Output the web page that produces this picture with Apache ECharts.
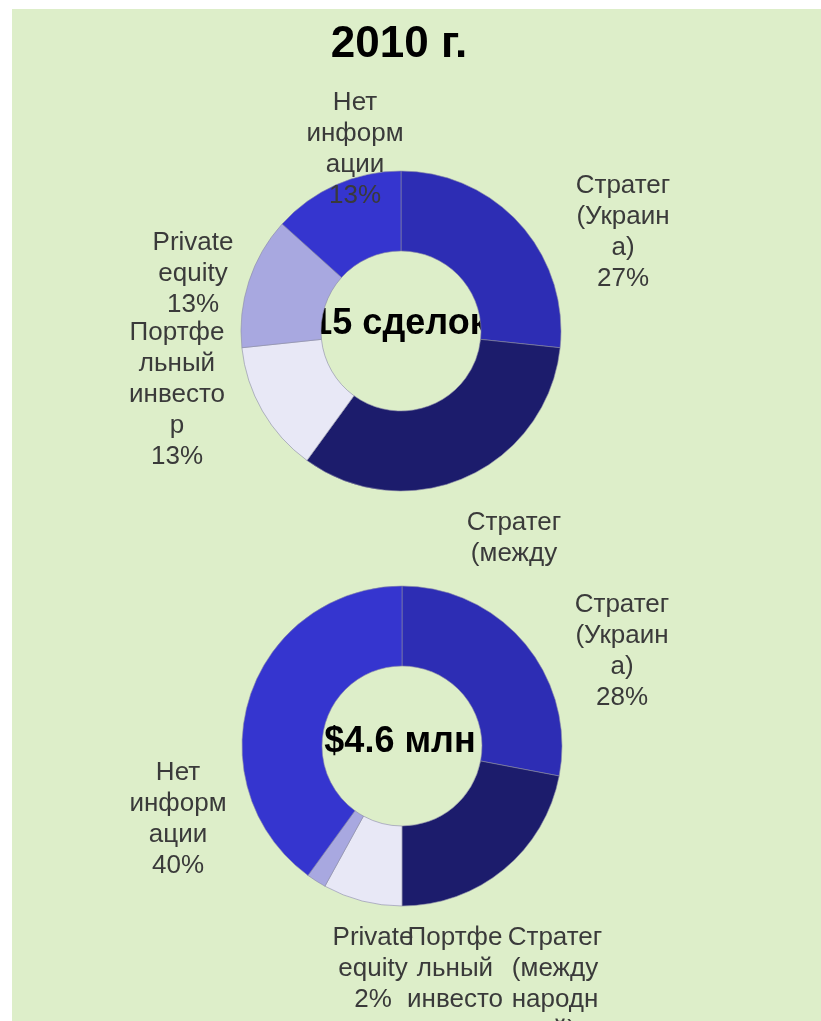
<!DOCTYPE html>
<html>
<head>
<meta charset="utf-8">
<script src="https://cdn.jsdelivr.net/npm/echarts@6/dist/echarts.min.js"></script>
<style>
  html, body { margin: 0; padding: 0; background: #fff; }
  #wrap { position: relative; width: 821px; height: 1021px; }
  #panel { position: absolute; left: 12px; top: 9px; right: 0; bottom: 0; background: #ddeec9; }
  #chart { position: absolute; left: 0; top: 0; width: 821px; height: 1021px; }
</style>
</head>
<body>
<div id="wrap">
  <div id="panel"></div>
  <div id="chart"></div>
</div>
<script>
// категории сделок
const categories = ['Стратег (Украина)', 'Стратег (международный)', 'Портфельный инвестор', 'Private equity', 'Нет информации']
// подписи с переносами как в исходнике
const wrappedNames = ['Стратег\n(Украин\nа)', 'Стратег\n(между\nнародн\nый)', 'Портфе\nльный\nинвесто\nр', 'Private\nequity', 'Нет\nинформ\nации']
// количество сделок, 2010 (всего 15)
const dealCount = [4, 5, 2, 2, 2]
// доля в сумме сделок, %, 2010 ($4.6 млн)
const dealValue = [28, 22, 8, 2, 40]

const sliceColors = ['#2d2db4', '#1c1c6c', '#e8e8f6', '#a8a8e0', '#3535cf']
const fontFamily = '"Liberation Sans", Arial, sans-serif'

// положение подписей (центр по x, верх блока по y)
const topLabelPos = [[623, 170], [514, 507], [177, 317], [193, 227], [355, 87]]
const bottomLabelPos = [[622, 589], [555, 922], [455, 922], [373, 922], [178, 757]]

function pieSeries(values, center, labelPos, clippedIndex) {
  return {
    type: 'pie',
    z: 5,
    center: center,
    radius: [80, 160],
    avoidLabelOverlap: false,
    percentPrecision: 2,
    data: values.map((v, i) => {
      const item = { name: categories[i], value: v, itemStyle: { color: sliceColors[i] } }
      if (i === clippedIndex) {
        // в исходнике подпись обрезана после двух строк
        item.label = { height: 62, lineOverflow: 'truncate' }
      }
      return item
    }),
    itemStyle: { borderColor: '#8a8aa6', borderWidth: 0.6 },
    label: {
      show: true,
      position: 'outside',
      color: '#3a3a3a',
      fontFamily: fontFamily,
      fontSize: 26,
      lineHeight: 31,
      align: 'center',
      formatter: p => wrappedNames[p.dataIndex] + '\n' + Math.round(p.percent) + '%'
    },
    labelLine: { show: false },
    labelLayout: p => ({
      x: labelPos[p.dataIndex][0],
      y: labelPos[p.dataIndex][1],
      align: 'center',
      verticalAlign: 'top'
    }),
    emphasis: { disabled: true },
    animation: false
  }
}

const chart = echarts.init(document.getElementById('chart'), null, { renderer: 'canvas' })
chart.setOption({
  backgroundColor: 'transparent',
  graphic: [
    { type: 'text', z: 1, x: 399, y: 45, style: { text: '2010 г.', align: 'center', verticalAlign: 'middle', font: 'bold 44px ' + fontFamily, fill: '#000' } },
    { type: 'text', z: 1, x: 400, y: 324, style: { text: '15 сделок', align: 'center', verticalAlign: 'middle', font: 'bold 36px ' + fontFamily, fill: '#000' } },
    { type: 'text', z: 1, x: 400, y: 742, style: { text: '$4.6 млн', align: 'center', verticalAlign: 'middle', font: 'bold 36px ' + fontFamily, fill: '#000' } }
  ],
  series: [
    pieSeries(dealCount, [401, 331], topLabelPos, 1),
    pieSeries(dealValue, [402, 746], bottomLabelPos, -1)
  ]
})
</script>
</body>
</html>
